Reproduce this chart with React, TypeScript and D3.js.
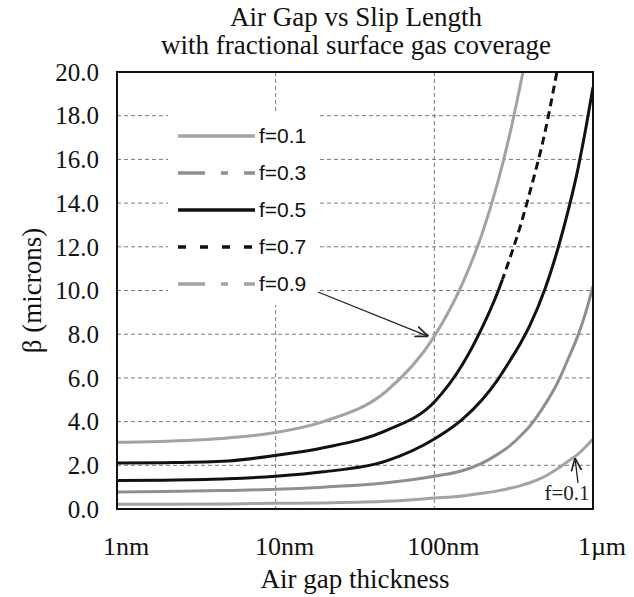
import { useEffect, useRef } from 'react';
import * as d3 from 'd3';

// air gap thickness in nm (read-off positions)
const thickness = [1, 2, 5, 10, 20, 50, 100, 150, 200, 250, 300, 350, 400, 500, 600, 700, 800, 900, 1000];
const thicknessF07 = [1, 2, 5, 10, 20, 50, 100, 150, 200, 250, 300, 350, 400, 500, 592];
const thicknessF09 = [1, 2, 5, 10, 20, 50, 100, 150, 200, 250, 300, 362];

// slip length beta (microns) for each coverage fraction
const f01 = [0.22, 0.22, 0.23, 0.26, 0.28, 0.35, 0.5, 0.6, 0.72, 0.83, 0.95, 1.07, 1.2, 1.5, 1.85, 2.2, 2.5, 2.85, 3.2];
const f03 = [0.78, 0.8, 0.85, 0.9, 1.0, 1.2, 1.5, 1.75, 2.1, 2.5, 2.9, 3.35, 3.8, 4.8, 5.8, 6.9, 7.9, 9.0, 10.2];
const f05 = [1.3, 1.32, 1.38, 1.5, 1.7, 2.2, 3.2, 4.1, 5.0, 5.9, 6.8, 7.6, 8.4, 10.1, 11.9, 13.7, 15.5, 17.4, 19.3];
const f07 = [2.1, 2.12, 2.2, 2.45, 2.8, 3.6, 4.9, 6.6, 8.3, 9.9, 11.5, 13.0, 14.5, 17.3, 20.0];
const f09 = [3.05, 3.1, 3.25, 3.5, 4.0, 5.4, 7.9, 10.3, 12.6, 14.9, 17.2, 20.0];

const yTicks = [0, 2, 4, 6, 8, 10, 12, 14, 16, 18, 20];
const xTicks = [1, 10, 100, 1000];
const xTickLabels = ['1nm', '10nm', '100nm', '1\u00b5m'];

// the dashed f=0.7 curve only shows its dashes above this value (dense points below look solid)
const dashFrom = 10.5;

const series = [
  { name: 'f=0.1', xs: thickness, values: f01, color: '#a3a3a3', dash: null, legendDash: null },
  { name: 'f=0.3', xs: thickness, values: f03, color: '#8f8f8f', dash: null, legendDash: '27,16,7,16' },
  { name: 'f=0.5', xs: thickness, values: f05, color: '#111', dash: null, legendDash: null },
  { name: 'f=0.7', xs: thicknessF07, values: f07, color: '#111', dash: '8,5', legendDash: '8,14' },
  { name: 'f=0.9', xs: thicknessF09, values: f09, color: '#a3a3a3', dash: null, legendDash: '27,16,7,16' },
];

const W = 634;
const H = 597;
const margin = { top: 72, right: 41, bottom: 88, left: 117 };

const App = () => {
  const svgRef = useRef(null);

  useEffect(() => {
    const svg = d3.select(svgRef.current);
    svg.selectAll('*').remove();

    const innerW = W - margin.left - margin.right;
    const innerH = H - margin.top - margin.bottom;
    const serif = "'Liberation Serif', 'Times New Roman', serif";
    const sans = "'Liberation Sans', Arial, sans-serif";

    const x = d3.scaleLog().domain([1, 1000]).range([0, innerW]);
    const y = d3.scaleLinear().domain([0, 20]).range([innerH, 0]);

    const defs = svg.append('defs');
    defs.append('clipPath').attr('id', 'plotclip')
      .append('rect').attr('width', innerW).attr('height', innerH);
    defs.append('clipPath').attr('id', 'upperclip')
      .append('rect').attr('width', innerW).attr('height', y(dashFrom));
    defs.append('clipPath').attr('id', 'lowerclip')
      .append('rect').attr('y', y(dashFrom)).attr('width', innerW).attr('height', innerH - y(dashFrom));

    defs.append('marker')
      .attr('id', 'arrow').attr('viewBox', '0 0 10 10')
      .attr('refX', 10).attr('refY', 5)
      .attr('markerWidth', 10).attr('markerHeight', 10)
      .attr('orient', 'auto')
      .append('path').attr('d', 'M0,1 L10,5 L0,9')
      .attr('fill', 'none').attr('stroke', '#222').attr('stroke-width', 1.3);

    const g = svg.append('g').attr('transform', `translate(${margin.left},${margin.top})`);

    // grid
    g.append('g').selectAll('line')
      .data(yTicks.slice(1, -1))
      .join('line')
      .attr('x1', 0).attr('x2', innerW)
      .attr('y1', d => y(d)).attr('y2', d => y(d))
      .attr('stroke', '#777').attr('stroke-width', 1).attr('stroke-dasharray', '4,3');

    g.append('g').selectAll('line')
      .data(xTicks.slice(1, -1))
      .join('line')
      .attr('x1', d => x(d)).attr('x2', d => x(d))
      .attr('y1', 0).attr('y2', innerH)
      .attr('stroke', '#777').attr('stroke-width', 1).attr('stroke-dasharray', '4,3');

    // legend background covers grid
    const lg = g.append('g').attr('transform', 'translate(51,42)');
    lg.append('rect').attr('width', 150).attr('height', 191).attr('fill', '#fff');

    // curves
    series.forEach(s => {
      const line = d3.line()
        .x((d, i) => x(s.xs[i]))
        .y(d => y(d))
        .curve(d3.curveMonotoneX);
      const parts = s.dash
        ? [{ clip: 'lowerclip', dash: null }, { clip: 'upperclip', dash: s.dash }]
        : [{ clip: 'plotclip', dash: null }];
      parts.forEach(p => {
        g.append('path')
          .datum(s.values)
          .attr('clip-path', `url(#${p.clip})`)
          .attr('d', line)
          .attr('fill', 'none')
          .attr('stroke', s.color)
          .attr('stroke-width', 3)
          .attr('stroke-dasharray', p.dash);
      });
    });

    // legend entries
    series.forEach((s, i) => {
      const yy = 22 + i * 37;
      lg.append('line')
        .attr('x1', 10).attr('x2', 87)
        .attr('y1', yy).attr('y2', yy)
        .attr('stroke', s.color).attr('stroke-width', 3.5)
        .attr('stroke-dasharray', s.legendDash);
      lg.append('text')
        .attr('x', 91).attr('y', yy + 7)
        .style('font-family', sans)
        .style('font-size', '21px')
        .attr('fill', '#111')
        .text(s.name);
    });

    // annotation arrows
    g.append('line')
      .attr('x1', 201).attr('y1', 220)
      .attr('x2', x(100) - 6).attr('y2', y(7.9))
      .attr('stroke', '#222').attr('stroke-width', 1.3)
      .attr('marker-end', 'url(#arrow)');

    g.append('line')
      .attr('x1', 461).attr('y1', 411)
      .attr('x2', 458).attr('y2', 386)
      .attr('stroke', '#222').attr('stroke-width', 1.3)
      .attr('marker-end', 'url(#arrow)');

    g.append('text')
      .attr('x', 450).attr('y', 428)
      .attr('text-anchor', 'middle')
      .style('font-family', serif).style('font-size', '21px')
      .attr('fill', '#222')
      .text('f=0.1');

    // frame
    g.append('rect')
      .attr('width', innerW).attr('height', innerH)
      .attr('fill', 'none').attr('stroke', '#111').attr('stroke-width', 2);

    // y axis labels
    g.append('g').selectAll('text')
      .data(yTicks)
      .join('text')
      .attr('x', -18).attr('y', d => y(d))
      .attr('dy', '0.35em')
      .attr('text-anchor', 'end')
      .style('font-family', serif).style('font-size', '25px')
      .attr('fill', '#111')
      .text(d => d3.format('.1f')(d));

    // x axis labels
    g.append('g').selectAll('text')
      .data(xTicks)
      .join('text')
      .attr('x', d => x(d) + 9).attr('y', innerH + 46)
      .attr('text-anchor', 'middle')
      .style('font-family', serif).style('font-size', '26px')
      .attr('fill', '#111')
      .text((d, i) => xTickLabels[i]);

    // axis titles
    svg.append('text')
      .attr('x', margin.left + innerW / 2).attr('y', 588)
      .attr('text-anchor', 'middle')
      .style('font-family', serif).style('font-size', '27px')
      .attr('fill', '#111')
      .text('Air gap thickness');

    svg.append('text')
      .attr('transform', `translate(41,${margin.top + innerH / 2}) rotate(-90)`)
      .attr('text-anchor', 'middle')
      .style('font-family', serif).style('font-size', '27px')
      .attr('fill', '#111')
      .text('\u03b2 (microns)');

    // title
    const title = svg.append('text')
      .attr('text-anchor', 'middle')
      .style('font-family', serif).style('font-size', '27px')
      .attr('fill', '#111');
    title.append('tspan').attr('x', 356).attr('y', 26).text('Air Gap vs Slip Length');
    title.append('tspan').attr('x', 356).attr('y', 54).text('with fractional surface gas coverage');
  }, []);

  return (
    <svg ref={svgRef} width={W} height={H}
      style={{ position: 'absolute', left: 0, top: 0, background: '#fff' }} />
  );
};

export default App;
